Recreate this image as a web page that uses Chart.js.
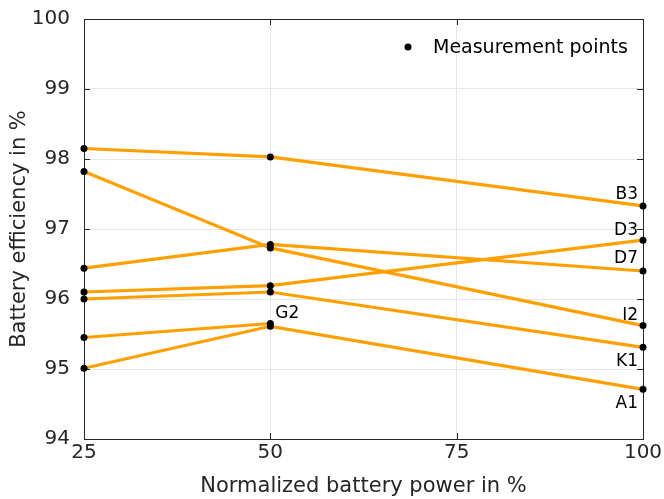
<!DOCTYPE html>
<html>
<head>
<meta charset="utf-8">
<script src="https://cdn.jsdelivr.net/npm/chart.js@4/dist/chart.umd.min.js"></script>
<style>
  html, body { margin: 0; padding: 0; background: #fff; }
  #wrap { width: 664px; height: 499px; }
</style>
</head>
<body>
<div id="wrap"><canvas id="effChart" width="664" height="499"></canvas></div>
<script>
// x positions of the measurements (normalized power in %)
const powerLevels = [25, 50, 100];
const xTicks = [25, 50, 75, 100];
const yTicks = [94, 95, 96, 97, 98, 99, 100];

// battery efficiency per system, in %
const seriesNames = ['B3', 'D3', 'D7', 'I2', 'K1', 'A1', 'G2'];
const effB3 = [98.15, 98.03, 97.33];
const effD3 = [96.10, 96.19, 96.84];
const effD7 = [96.44, 96.78, 96.40];
const effI2 = [97.82, 96.73, 95.62];
const effK1 = [96.00, 96.10, 95.31];
const effA1 = [95.01, 95.61, 94.71];
const effG2 = [95.45, 95.65];

const allSeries = [effB3, effD3, effD7, effI2, effK1, effA1, effG2];
const axisColor = '#262626';
const fontFam = '"DejaVu Sans", Verdana, sans-serif';

const datasets = allSeries.map((vals, i) => ({
    label: seriesNames[i],
    data: vals.map((v, j) => ({ x: powerLevels[j], y: v })),
    borderColor: '#FFA000',
    borderWidth: 3.2,
    pointRadius: 3.5,
    pointBackgroundColor: '#000',
    pointBorderColor: '#000',
    pointBorderWidth: 0,
    tension: 0,
    clip: false
}));

// label offsets next to the last point of each series (dx, dy in px)
const labelPos = {
    B3: [-5, -11, 'right'],
    D3: [-5, -10, 'right'],
    D7: [-5, -12, 'right'],
    I2: [-5, -10, 'right'],
    K1: [-5, 14, 'right'],
    A1: [-5, 14, 'right'],
    G2: [5, -10, 'left']
};

const decorPlugin = {
    id: 'decor',
    beforeDatasetsDraw(chart) {
        // box and inward ticks, under the data
        const { ctx, chartArea: a, scales } = chart;
        ctx.save();
        ctx.strokeStyle = axisColor;
        ctx.lineWidth = 1;
        ctx.strokeRect(a.left + 0.5, a.top + 0.5, a.right - a.left, a.bottom - a.top);
        const tl = 6;
        ctx.beginPath();
        xTicks.forEach(t => {
            const px = Math.round(scales.x.getPixelForValue(t)) + 0.5;
            ctx.moveTo(px, a.bottom); ctx.lineTo(px, a.bottom - tl);
            ctx.moveTo(px, a.top); ctx.lineTo(px, a.top + tl);
        });
        yTicks.forEach(t => {
            const py = Math.round(scales.y.getPixelForValue(t)) + 0.5;
            ctx.moveTo(a.left, py); ctx.lineTo(a.left + tl, py);
            ctx.moveTo(a.right, py); ctx.lineTo(a.right - tl, py);
        });
        ctx.stroke();
        ctx.restore();
    },
    afterDatasetsDraw(chart) {
        const { ctx, scales } = chart;
        ctx.save();
        // series names
        ctx.fillStyle = '#000';
        ctx.font = '17px ' + fontFam;
        ctx.textBaseline = 'middle';
        chart.data.datasets.forEach(ds => {
            const last = ds.data[ds.data.length - 1];
            const p = labelPos[ds.label];
            ctx.textAlign = p[2];
            ctx.fillText(ds.label, scales.x.getPixelForValue(last.x) + p[0],
                scales.y.getPixelForValue(last.y) + p[1]);
        });

        // legend
        ctx.beginPath();
        ctx.arc(408, 47, 3.5, 0, Math.PI * 2);
        ctx.fill();
        ctx.textAlign = 'left';
        ctx.font = '19px ' + fontFam;
        ctx.fillText('Measurement points', 433, 48);
        ctx.restore();
    }
};

new Chart(document.getElementById('effChart'), {
    type: 'line',
    data: { datasets: datasets },
    options: {
        responsive: false,
        animation: false,
        layout: { padding: { top: 19, right: 21, left: 0, bottom: 0 } },
        plugins: { legend: { display: false }, tooltip: { enabled: false } },
        scales: {
            x: {
                type: 'linear',
                min: 25, max: 100,
                afterBuildTicks: s => { s.ticks = xTicks.map(v => ({ value: v })); },
                afterFit: s => { s.height = 60; s.paddingLeft = 0; s.paddingRight = 0; },
                grid: { color: '#e6e6e6', drawTicks: false },
                border: { display: false },
                ticks: { color: axisColor, font: { family: fontFam, size: 20 }, padding: 2, maxRotation: 0 },
                title: { display: true, text: 'Normalized battery power in %', color: axisColor,
                         font: { family: fontFam, size: 21 }, padding: { top: 0, bottom: 0 } }
            },
            y: {
                min: 94, max: 100,
                afterBuildTicks: s => { s.ticks = yTicks.map(v => ({ value: v })); },
                afterFit: s => { s.width = 84; s.paddingTop = 0; s.paddingBottom = 0; },
                grid: { color: '#e6e6e6', drawTicks: false },
                border: { display: false },
                ticks: { color: axisColor, font: { family: fontFam, size: 20 }, padding: 14 },
                title: { display: true, text: 'Battery efficiency in %', color: axisColor,
                         font: { family: fontFam, size: 21 }, padding: { top: 7, bottom: 0 } }
            }
        }
    },
    plugins: [decorPlugin]
});
</script>
</body>
</html>
